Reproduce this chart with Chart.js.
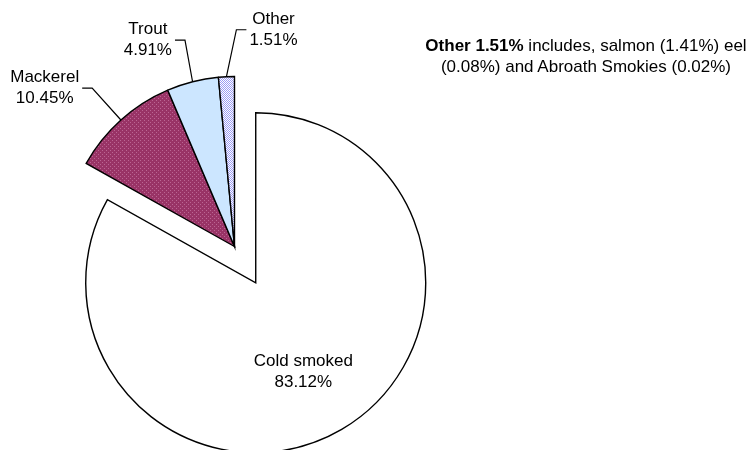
<!DOCTYPE html>
<html>
<head>
<meta charset="utf-8">
<script src="https://cdn.jsdelivr.net/npm/chart.js@4.4.1/dist/chart.umd.min.js"></script>
<style>
  html, body { margin: 0; padding: 0; background: #fff; }
  #wrap { position: relative; width: 751px; height: 450px; overflow: hidden; }
  #note {
    position: absolute; left: 406px; top: 35px; width: 360px;
    text-align: center; color: #000;
    font: 17px "Liberation Sans", Arial, sans-serif; line-height: 21px;
  }
</style>
</head>
<body>
<div id="wrap">
  <canvas id="smoked-pie" width="751" height="450"></canvas>
  <div id="note"><b>Other 1.51%</b> includes, salmon (1.41%) eel<br>(0.08%) and Abroath Smokies (0.02%)</div>
</div>
<script>
// smoked fish production share (%)
const productLabels = ['Cold smoked', 'Mackerel', 'Trout', 'Other'];
const productShares = [83.12, 10.45, 4.91, 1.51];

// small repeating fills, like the old spreadsheet patterns
function makePattern(bg, fg, cells) {
    const c = document.createElement('canvas');
    c.width = 4;
    c.height = 4;
    const g = c.getContext('2d');
    g.fillStyle = bg;
    g.fillRect(0, 0, 4, 4);
    g.fillStyle = fg;
    cells.forEach(([x, y]) => g.fillRect(x, y, 1, 1));
    return g.createPattern(c, 'repeat');
}

const mackerelFill = makePattern('#993366', '#bb6593', [[0, 0], [2, 2]]);
const otherFill = makePattern('#ffffff', '#9c9cf5',
    [[0, 0], [2, 0], [1, 1], [3, 1], [0, 2], [2, 2], [1, 3], [3, 3]]);

// pull one slice out from the centre (done after layout so the radius stays the same)
const explodeSlice = {
    id: 'explodeSlice',
    afterDatasetsUpdate(chart, args, opts) {
        const arc = chart.getDatasetMeta(0).data[opts.index];
        const mid = (arc.startAngle + arc.endAngle) / 2;
        arc.x += Math.cos(mid) * opts.distance;
        arc.y += Math.sin(mid) * opts.distance;
    }
};

// category + percent labels with leader lines
const sliceLabels = {
    id: 'sliceLabels',
    afterDatasetsDraw(chart, args, opts) {
        const ctx = chart.ctx;
        const meta = chart.getDatasetMeta(0);
        ctx.save();
        ctx.font = opts.font;
        ctx.fillStyle = '#000';
        ctx.strokeStyle = '#000';
        ctx.lineWidth = 1.2;
        ctx.textAlign = 'center';
        ctx.textBaseline = 'middle';

        meta.data.forEach((arc, i) => {
            const lines = [productLabels[i], productShares[i].toFixed(2) + '%'];
            const mid = (arc.startAngle + arc.endAngle) / 2;
            const cos = Math.cos(mid);
            const sin = Math.sin(mid);
            const nudge = opts.nudge[i] || [0, 0];
            let tx, ty;

            if (opts.inside[i]) {
                tx = arc.x + cos * arc.outerRadius * 0.6 + nudge[0];
                ty = arc.y + sin * arc.outerRadius * 0.6 + nudge[1];
            } else {
                const ex = arc.x + cos * arc.outerRadius;
                const ey = arc.y + sin * arc.outerRadius;
                const bx = ex + cos * opts.leader + nudge[0];
                const by = ey + sin * opts.leader + nudge[1];
                const side = bx < arc.x ? -1 : 1;
                const hx = bx + side * opts.tail;
                ctx.beginPath();
                ctx.moveTo(ex, ey);
                ctx.lineTo(bx, by);
                ctx.lineTo(hx, by);
                ctx.stroke();
                const w = Math.max(...lines.map(l => ctx.measureText(l).width));
                tx = hx + side * (opts.gap + w / 2);
                ty = by;
            }
            ctx.fillText(lines[0], tx, ty - opts.lineHeight / 2);
            ctx.fillText(lines[1], tx, ty + opts.lineHeight / 2);
        });
        ctx.restore();
    }
};

const smokedChart = new Chart(document.getElementById('smoked-pie'), {
    type: 'pie',
    data: {
        labels: productLabels,
        datasets: [{
            data: productShares,
            backgroundColor: ['#ffffff', mackerelFill, '#cce6ff', otherFill],
            borderColor: '#000000',
            borderWidth: 1.4,
            borderJoinStyle: 'miter',
            radius: 170,
            clip: false
        }]
    },
    options: {
        responsive: false,
        animation: false,
        events: [],
        layout: {
            padding: { left: 0, right: 282, top: 43, bottom: 0 }
        },
        plugins: {
            legend: { display: false },
            tooltip: { enabled: false },
            explodeSlice: { index: 0, distance: 42 },
            sliceLabels: {
                font: '17px "Liberation Sans", Arial, sans-serif',
                lineHeight: 21,
                leader: 43,
                tail: 10,
                gap: 3,
                inside: [true, false, false, false],
                nudge: [[-4, 1], [0, 0], [3, 0], [12, -4]]
            }
        }
    },
    plugins: [explodeSlice, sliceLabels]
});
</script>
</body>
</html>
